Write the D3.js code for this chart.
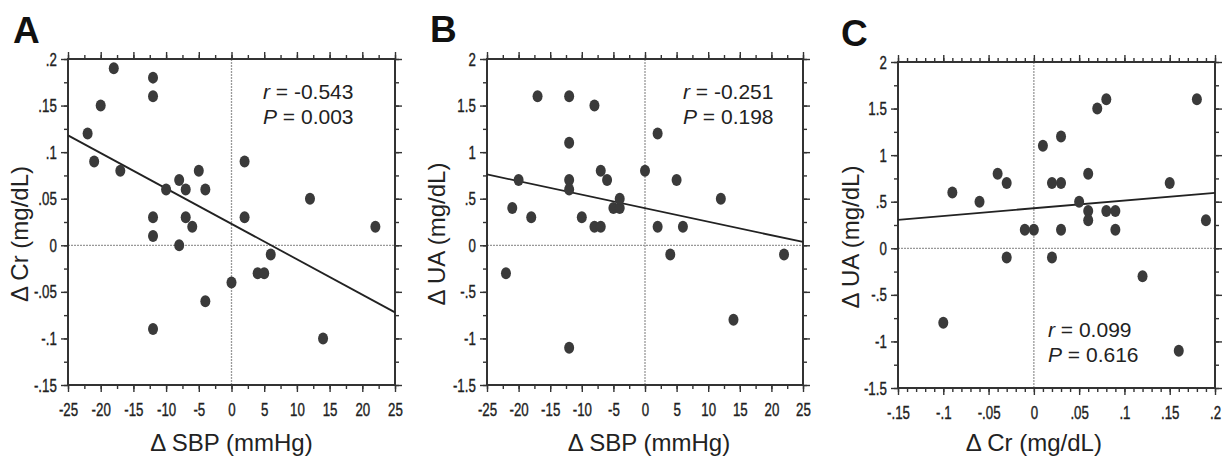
<!DOCTYPE html>
<html>
<head>
<meta charset="utf-8">
<script src="https://cdn.jsdelivr.net/npm/d3@7"></script>
<style>
  body { margin: 0; background: #fff; }
  svg { display: block; }
</style>
</head>
<body>
<div id="chart"></div>
<script>
// A: change in SBP vs change in creatinine
const sbpA = [-18,-12,-12,-20,-22,-21,-17,-10,-8,-7,-5,-4,2,12,
              -12,-7,2,-6,22,-12,-8,6,4,5,0,-4,-12,14];
const crA  = [.19,.18,.16,.15,.12,.09,.08,.06,.07,.06,.08,.06,.09,.05,
              .03,.03,.03,.02,.02,.01,0,-.01,-.03,-.03,-.04,-.06,-.09,-.1];

// B: change in SBP vs change in uric acid
const sbpB = [-17,-12,-8,-12,2,-20,-12,-12,-7,-6,0,5,12,-21,
              -18,-10,-5,-4,-4,-8,-7,2,6,-22,-12,4,14,22];
const uaB  = [1.6,1.6,1.5,1.1,1.2,.7,.7,.6,.8,.7,.8,.7,.5,.4,
              .3,.3,.4,.4,.5,.2,.2,.2,.2,-.3,-1.1,-.1,-.8,-.1];

// C: change in creatinine vs change in uric acid
const crC  = [-.09,-.06,-.04,-.03,.01,.03,.02,.03,.06,.07,.08,.18,.15,.05,
              .06,.06,.08,.09,.19,-.01,0,.03,.09,-.03,.02,.12,-.1,.16];
const uaC  = [.6,.5,.8,.7,1.1,1.2,.7,.7,.8,1.5,1.6,1.6,.7,.5,
              .4,.3,.4,.4,.3,.2,.2,.2,.2,-.1,-.1,-.3,-.8,-1.1];

// regression lines [intercept, slope]
const fitA = [0.023, -0.0038];
const fitB = [0.398, -0.0145];
const fitC = [0.43, 0.83];

// stats text
const statsA = ["-0.543", "0.003"];
const statsB = ["-0.251", "0.198"];
const statsC = ["0.099", "0.616"];

// tick values
const xTicksSBP = [-25,-20,-15,-10,-5,0,5,10,15,20,25];
const xMinorSBP = d3.range(-25, 25.01, 2.5);
const yTicksCr  = [-.15,-.1,-.05,0,.05,.1,.15,.2];
const yMinorCr  = d3.range(-.15, .2001, .025);
const yTicksUA  = [-1.5,-1,-.5,0,.5,1,1.5,2];
const yMinorUA  = d3.range(-1.5, 2.001, .25);
const xTicksCr  = [-.15,-.1,-.05,0,.05,.1,.15,.2];
const xMinorCr  = d3.range(-.15, .2001, .01);

// .05 style labels, no leading zero
const fmt = v => {
  if (Math.abs(v) < 1e-9) return "0";
  let s = String(+v.toFixed(3));
  return s.replace(/^(-?)0\./, "$1.");
};

const W = 1223, H = 459;
const svg = d3.select("#chart").append("svg")
  .attr("width", W).attr("height", H);

const panels = [
  { letter: "A", lx: 13, ly: 43, box: [68, 59, 395, 385],
    xs: sbpA, ys: crA, fit: fitA, stats: statsA, st: [263, 99],
    xDom: [-25, 25], yDom: [-.15, .2],
    xt: xTicksSBP, xm: xMinorSBP, yt: yTicksCr, ym: yMinorCr,
    xTitle: "\u0394 SBP (mmHg)", yTitle: "\u0394 Cr (mg/dL)", ytx: 20 },
  { letter: "B", lx: 430, ly: 42, box: [487, 59, 803, 385],
    xs: sbpB, ys: uaB, fit: fitB, stats: statsB, st: [683, 99],
    xDom: [-25, 25], yDom: [-1.5, 2],
    xt: xTicksSBP, xm: xMinorSBP, yt: yTicksUA, ym: yMinorUA,
    xTitle: "\u0394 SBP (mmHg)", yTitle: "\u0394 UA (mg/dL)", ytx: 437 },
  { letter: "C", lx: 841, ly: 46, box: [898, 62, 1215, 388],
    xs: crC, ys: uaC, fit: fitC, stats: statsC, st: [1048, 337],
    xDom: [-.15, .2], yDom: [-1.5, 2],
    xt: xTicksCr, xm: xMinorCr, yt: yTicksUA, ym: yMinorUA,
    xTitle: "\u0394 Cr (mg/dL)", yTitle: "\u0394 UA (mg/dL)", ytx: 851 }
];

const mainFont = "'Liberation Sans', Arial, sans-serif";
const ink = "#333";

panels.forEach(p => {
  const [x0, y0, x1, y1] = p.box;
  const x = d3.scaleLinear().domain(p.xDom).range([x0, x1]);
  const y = d3.scaleLinear().domain(p.yDom).range([y1, y0]);
  const g = svg.append("g");

  // zero reference lines
  g.append("line")
    .attr("x1", x0).attr("x2", x1).attr("y1", y(0)).attr("y2", y(0))
    .attr("stroke", "#999").attr("stroke-width", 1.3).attr("stroke-dasharray", "2,1");
  g.append("line")
    .attr("x1", x(0)).attr("x2", x(0)).attr("y1", y0).attr("y2", y1)
    .attr("stroke", "#999").attr("stroke-width", 1.3).attr("stroke-dasharray", "2,1");

  // axes on all four sides, ticks outward
  const addAxis = (axisFn, scale, vals, size, labels, tr) => {
    const a = axisFn(scale).tickValues(vals).tickSize(size).tickSizeOuter(0);
    if (labels) a.tickPadding(axisFn === d3.axisBottom ? 13 : 5).tickFormat(fmt);
    else a.tickFormat("");
    const ag = g.append("g").attr("transform", tr).call(a);
    ag.select(".domain").remove();
    ag.selectAll("line").attr("stroke", ink).attr("stroke-width", 1.4);
    return ag;
  };
  addAxis(d3.axisBottom, x, p.xm, 4, false, `translate(0,${y1})`);
  const bx = addAxis(d3.axisBottom, x, p.xt, 7, true, `translate(0,${y1})`);
  addAxis(d3.axisTop, x, p.xm, 4, false, `translate(0,${y0})`);
  addAxis(d3.axisTop, x, p.xt, 7, false, `translate(0,${y0})`);
  addAxis(d3.axisLeft, y, p.ym, 4, false, `translate(${x0},0)`);
  const ly = addAxis(d3.axisLeft, y, p.yt, 7, true, `translate(${x0},0)`);
  addAxis(d3.axisRight, y, p.ym, 4, false, `translate(${x1},0)`);
  addAxis(d3.axisRight, y, p.yt, 7, false, `translate(${x1},0)`);

  // tall condensed tick labels, a little heavy like the scan
  [bx, ly].forEach(ag => ag.selectAll("text")
    .attr("font-family", mainFont).attr("font-size", 19)
    .attr("fill", "#222").attr("stroke", "#222").attr("stroke-width", 0.4)
    .attr("transform", "scale(0.7,1)"));
  bx.selectAll("text").attr("y", 18);
  ly.selectAll("text").attr("x", -16);

  // frame
  g.append("rect")
    .attr("x", x0).attr("y", y0).attr("width", x1 - x0).attr("height", y1 - y0)
    .attr("fill", "none").attr("stroke", ink).attr("stroke-width", 2);

  // regression line
  const [b0, b1] = p.fit;
  g.append("line")
    .attr("x1", x(p.xDom[0])).attr("y1", y(b0 + b1 * p.xDom[0]))
    .attr("x2", x(p.xDom[1])).attr("y2", y(b0 + b1 * p.xDom[1]))
    .attr("stroke", "#222").attr("stroke-width", 1.8);

  // points
  g.selectAll("ellipse").data(d3.zip(p.xs, p.ys)).enter()
    .append("ellipse")
    .attr("cx", d => x(d[0])).attr("cy", d => y(d[1]))
    .attr("rx", 5).attr("ry", 6)
    .attr("fill", "#3a3a3a");

  // r and P
  const t = g.append("text").attr("font-family", mainFont)
    .attr("font-size", 21).attr("fill", "#222");
  const l1 = t.append("tspan").attr("x", p.st[0]).attr("y", p.st[1]);
  l1.append("tspan").attr("font-style", "italic").text("r");
  l1.append("tspan").text(" = " + p.stats[0]);
  const l2 = t.append("tspan").attr("x", p.st[0]).attr("y", p.st[1] + 25);
  l2.append("tspan").attr("font-style", "italic").text("P");
  l2.append("tspan").text(" = " + p.stats[1]);

  // axis titles
  g.append("text")
    .attr("x", x(0) + (p.letter === "B" ? 4 : 0)).attr("y", 451)
    .attr("text-anchor", "middle")
    .attr("font-family", mainFont).attr("font-size", 24).attr("fill", "#222")
    .text(p.xTitle);
  g.append("text")
    .attr("transform", `translate(${p.ytx + 8},${(y0 + y1) / 2 + 12}) rotate(-90)`)
    .attr("text-anchor", "middle")
    .attr("font-family", mainFont).attr("font-size", 24).attr("fill", "#222")
    .text(p.yTitle);

  // panel letter
  g.append("text")
    .attr("x", p.lx).attr("y", p.ly)
    .attr("font-family", mainFont).attr("font-weight", "bold")
    .attr("font-size", 37).attr("fill", "#111")
    .text(p.letter);
});
</script>
</body>
</html>
